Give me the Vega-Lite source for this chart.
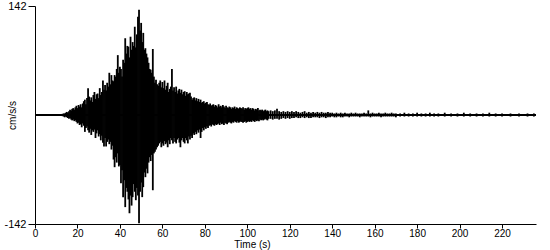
{
  "$schema": "https://vega.github.io/schema/vega-lite/v6.json",
  "width": 501,
  "height": 218,
  "autosize": {"type": "none"},
  "padding": {"left": 35, "top": 6, "right": 14, "bottom": 26},
  "background": "white",
  "config": {"view": {"stroke": null}, "font": "Liberation Sans"},
  "layer": [
    {
      "data": {"values": [{"t0": 0, "t1": 236, "v": 0}]},
      "mark": {"type": "rule", "color": "black", "strokeWidth": 2},
      "encoding": {
        "x": {"field": "t0", "type": "quantitative", "scale": {"domain": [0, 236], "nice": false}},
        "x2": {"field": "t1"},
        "y": {"field": "v", "type": "quantitative", "scale": {"domain": [-142, 142], "nice": false}}
      }
    },
    {
      "data": {"values": [
        {"t":13,"h":1.5,"l":-1.5},{"t":13.5,"h":2,"l":-2},{"t":14,"h":2,"l":-3},{"t":14.5,"h":3,"l":-2},
        {"t":15,"h":4,"l":-3},{"t":15.5,"h":3,"l":-4},{"t":16,"h":5,"l":-5},{"t":16.5,"h":7,"l":-4},
        {"t":17,"h":6,"l":-6},{"t":17.5,"h":8,"l":-7},{"t":18,"h":9,"l":-6},{"t":18.5,"h":7,"l":-8},
        {"t":19,"h":10,"l":-7},{"t":19.5,"h":12,"l":-9},{"t":20,"h":9,"l":-11},{"t":20.5,"h":13,"l":-10},
        {"t":21,"h":11,"l":-13},{"t":21.5,"h":14,"l":-12},{"t":22,"h":10,"l":-16},{"t":22.5,"h":15,"l":-11},
        {"t":23,"h":18,"l":-14},{"t":23.5,"h":20,"l":-22},{"t":24,"h":14,"l":-17},{"t":24.5,"h":22,"l":-15},
        {"t":25,"h":35,"l":-20},{"t":25.5,"h":24,"l":-23},{"t":26,"h":19,"l":-18},{"t":26.5,"h":23,"l":-26},
        {"t":27,"h":17,"l":-20},{"t":27.5,"h":26,"l":-22},{"t":28,"h":30,"l":-19},{"t":28.5,"h":21,"l":-30},
        {"t":29,"h":27,"l":-24},{"t":29.5,"h":28,"l":-20},{"t":30,"h":22,"l":-28},{"t":30.5,"h":35,"l":-25},
        {"t":31,"h":26,"l":-33},{"t":31.5,"h":30,"l":-27},{"t":32,"h":45,"l":-36},{"t":32.5,"h":33,"l":-41},
        {"t":33,"h":39,"l":-30},{"t":33.5,"h":32,"l":-41},{"t":34,"h":42,"l":-35},{"t":34.5,"h":37,"l":-32},
        {"t":35,"h":55,"l":-38},{"t":35.5,"h":40,"l":-35},{"t":36,"h":52,"l":-45},{"t":36.5,"h":45,"l":-40},
        {"t":37,"h":44,"l":-58},{"t":37.5,"h":52,"l":-68},{"t":38,"h":50,"l":-55},{"t":38.5,"h":60,"l":-62},
        {"t":39,"h":78,"l":-50},{"t":39.5,"h":55,"l":-67},{"t":40,"h":63,"l":-65},{"t":40.5,"h":60,"l":-89},
        {"t":41,"h":50,"l":-72},{"t":41.5,"h":72,"l":-107},{"t":42,"h":68,"l":-85},{"t":42.5,"h":100,"l":-120},
        {"t":43,"h":80,"l":-95},{"t":43.5,"h":90,"l":-100},{"t":44,"h":89,"l":-110},{"t":44.5,"h":75,"l":-128},
        {"t":45,"h":102,"l":-105},{"t":45.5,"h":85,"l":-118},{"t":46,"h":95,"l":-107},{"t":46.5,"h":90,"l":-90},
        {"t":47,"h":115,"l":-100},{"t":47.5,"h":88,"l":-111},{"t":48,"h":105,"l":-95},{"t":48.5,"h":128,"l":-105},
        {"t":49,"h":137,"l":-141},{"t":49.5,"h":110,"l":-100},{"t":50,"h":120,"l":-88},{"t":50.5,"h":95,"l":-107},
        {"t":51,"h":107,"l":-94},{"t":51.5,"h":85,"l":-75},{"t":52,"h":87,"l":-81},{"t":52.5,"h":80,"l":-70},
        {"t":53,"h":75,"l":-76},{"t":53.5,"h":68,"l":-62},{"t":54,"h":60,"l":-55},{"t":54.5,"h":59,"l":-60},
        {"t":55,"h":55,"l":-52},{"t":55.5,"h":86,"l":-98},{"t":56,"h":50,"l":-50},{"t":56.5,"h":42,"l":-48},
        {"t":57,"h":46,"l":-45},{"t":57.5,"h":40,"l":-42},{"t":58,"h":38,"l":-40},{"t":58.5,"h":42,"l":-37},
        {"t":59,"h":45,"l":-35},{"t":59.5,"h":36,"l":-42},{"t":60,"h":43,"l":-37},{"t":60.5,"h":35,"l":-40},
        {"t":61,"h":45,"l":-34},{"t":61.5,"h":33,"l":-38},{"t":62,"h":38,"l":-36},{"t":62.5,"h":42,"l":-42},
        {"t":63,"h":30,"l":-33},{"t":63.5,"h":34,"l":-38},{"t":64,"h":37,"l":-30},{"t":64.5,"h":60,"l":-33},
        {"t":65,"h":32,"l":-37},{"t":65.5,"h":36,"l":-30},{"t":66,"h":30,"l":-35},{"t":66.5,"h":37,"l":-37},
        {"t":67,"h":28,"l":-32},{"t":67.5,"h":32,"l":-30},{"t":68,"h":34,"l":-36},{"t":68.5,"h":29,"l":-42},
        {"t":69,"h":33,"l":-33},{"t":69.5,"h":27,"l":-30},{"t":70,"h":30,"l":-35},{"t":70.5,"h":31,"l":-37},
        {"t":71,"h":25,"l":-30},{"t":71.5,"h":30,"l":-33},{"t":72,"h":27,"l":-37},{"t":72.5,"h":28,"l":-28},
        {"t":73,"h":29,"l":-32},{"t":73.5,"h":24,"l":-27},{"t":74,"h":20,"l":-30},{"t":74.5,"h":22,"l":-24},
        {"t":75,"h":23,"l":-26},{"t":75.5,"h":19,"l":-22},{"t":76,"h":22,"l":-25},{"t":76.5,"h":18,"l":-20},
        {"t":77,"h":21,"l":-23},{"t":77.5,"h":17,"l":-19},{"t":78,"h":20,"l":-30},{"t":78.5,"h":16,"l":-22},
        {"t":79,"h":17,"l":-17},{"t":79.5,"h":18,"l":-20},{"t":80,"h":15,"l":-16},{"t":80.5,"h":16,"l":-18},
        {"t":81,"h":17,"l":-15},{"t":81.5,"h":14,"l":-17},{"t":82,"h":13,"l":-14},{"t":82.5,"h":15,"l":-13},
        {"t":83,"h":12,"l":-15},{"t":83.5,"h":13,"l":-12},{"t":84,"h":14,"l":-13},{"t":84.5,"h":11,"l":-14},
        {"t":85,"h":13,"l":-12},{"t":85.5,"h":12,"l":-13},{"t":86,"h":10,"l":-12},{"t":86.5,"h":14,"l":-11},
        {"t":87,"h":11,"l":-13},{"t":87.5,"h":12,"l":-10},{"t":88,"h":10,"l":-12},{"t":88.5,"h":13,"l":-11},
        {"t":89,"h":11,"l":-13},{"t":89.5,"h":9,"l":-10},{"t":90,"h":12,"l":-11},{"t":90.5,"h":10,"l":-12},
        {"t":91,"h":9,"l":-10},{"t":91.5,"h":11,"l":-9},{"t":92,"h":10,"l":-10},{"t":92.5,"h":8,"l":-11},
        {"t":93,"h":10,"l":-9},{"t":93.5,"h":9,"l":-10},{"t":94,"h":11,"l":-8},{"t":94.5,"h":8,"l":-9},
        {"t":95,"h":10,"l":-10},{"t":95.5,"h":9,"l":-8},{"t":96,"h":8,"l":-10},{"t":96.5,"h":10,"l":-9},
        {"t":97,"h":9,"l":-8},{"t":97.5,"h":8,"l":-9},{"t":98,"h":10,"l":-10},{"t":98.5,"h":7,"l":-9},
        {"t":99,"h":9,"l":-8},{"t":99.5,"h":8,"l":-10},{"t":100,"h":9,"l":-9},{"t":100.5,"h":10,"l":-8},
        {"t":101,"h":8,"l":-9},{"t":101.5,"h":9,"l":-8},{"t":102,"h":7,"l":-9},{"t":102.5,"h":9,"l":-7},
        {"t":103,"h":8,"l":-8},{"t":103.5,"h":6,"l":-9},{"t":104,"h":8,"l":-7},{"t":104.5,"h":7,"l":-8},
        {"t":105,"h":9,"l":-7},{"t":105.5,"h":6,"l":-8},{"t":106,"h":7,"l":-6},{"t":106.5,"h":6,"l":-7},
        {"t":107,"h":7,"l":-6},{"t":107.5,"h":5,"l":-7},{"t":108,"h":6,"l":-6},{"t":108.5,"h":7,"l":-5},
        {"t":109,"h":5,"l":-6},{"t":109.5,"h":6,"l":-7},{"t":110,"h":5,"l":-5},
        {"t":111,"h":6,"l":-5},{"t":112,"h":5,"l":-6},{"t":113,"h":6,"l":-5},{"t":114,"h":8,"l":-5},
        {"t":115,"h":5,"l":-6},{"t":116,"h":4,"l":-5},{"t":117,"h":5,"l":-4},{"t":118,"h":4,"l":-5},
        {"t":119,"h":5,"l":-4},{"t":120,"h":4,"l":-5},{"t":121,"h":5,"l":-4},{"t":122,"h":4,"l":-4},
        {"t":123,"h":5,"l":-3},{"t":124,"h":4,"l":-4},{"t":125,"h":3,"l":-4},{"t":126,"h":4,"l":-3},
        {"t":127,"h":5,"l":-4},{"t":128,"h":3,"l":-3},{"t":129,"h":4,"l":-4},{"t":130,"h":3,"l":-4},
        {"t":131,"h":4,"l":-3},{"t":132,"h":3,"l":-3},{"t":133,"h":4,"l":-3},{"t":134,"h":3,"l":-4},
        {"t":135,"h":4,"l":-3},{"t":136,"h":3,"l":-3},{"t":137,"h":3,"l":-4},{"t":138,"h":4,"l":-3},
        {"t":139,"h":3,"l":-3},{"t":140,"h":3,"l":-2},{"t":141,"h":2,"l":-3},{"t":142,"h":3,"l":-3},
        {"t":143,"h":2,"l":-2},{"t":144,"h":3,"l":-3},{"t":145,"h":2,"l":-3},{"t":146,"h":3,"l":-2},
        {"t":147,"h":2,"l":-2},{"t":148,"h":2,"l":-3},{"t":149,"h":3,"l":-2},{"t":150,"h":2,"l":-2},
        {"t":151,"h":3,"l":-2},{"t":152,"h":2,"l":-2},{"t":153,"h":2,"l":-3},{"t":154,"h":2,"l":-2},
        {"t":155,"h":3,"l":-2},{"t":156,"h":2,"l":-2},{"t":157,"h":6,"l":-2},{"t":158,"h":2,"l":-3},
        {"t":159,"h":3,"l":-2},{"t":160,"h":2,"l":-2},{"t":161,"h":2,"l":-2},{"t":162,"h":3,"l":-2},
        {"t":163,"h":2,"l":-3},{"t":164,"h":2,"l":-2},{"t":165,"h":3,"l":-2},{"t":166,"h":2,"l":-2},
        {"t":167,"h":2,"l":-2},{"t":168,"h":3,"l":-2},{"t":169,"h":2,"l":-2},{"t":170,"h":2,"l":-3},
        {"t":172,"h":2,"l":-2},{"t":174,"h":3,"l":-2},{"t":176,"h":2,"l":-2},{"t":178,"h":2,"l":-2},
        {"t":180,"h":3,"l":-2},{"t":182,"h":2,"l":-2},{"t":184,"h":2,"l":-2},{"t":186,"h":3,"l":-2},
        {"t":188,"h":2,"l":-2},{"t":190,"h":2,"l":-2},{"t":193,"h":3,"l":-2},{"t":196,"h":2,"l":-2},
        {"t":199,"h":2,"l":-2},{"t":202,"h":3,"l":-2},{"t":205,"h":2,"l":-2},{"t":208,"h":2,"l":-2},
        {"t":211,"h":2,"l":-2},{"t":214,"h":3,"l":-2},{"t":217,"h":2,"l":-2},{"t":220,"h":2,"l":-2},
        {"t":224,"h":2,"l":-2},{"t":228,"h":2,"l":-2},{"t":232,"h":2,"l":-2},{"t":235,"h":2,"l":-2}
      ]},
      "mark": {"type": "rule", "color": "black", "strokeWidth": 1.8},
      "encoding": {
        "x": {
          "field": "t", "type": "quantitative",
          "scale": {"domain": [0, 236], "nice": false},
          "axis": {
            "values": [0, 20, 40, 60, 80, 100, 120, 140, 160, 180, 200, 220],
            "title": "Time (s)", "grid": false,
            "domainColor": "black", "tickColor": "black", "labelColor": "black", "titleColor": "black",
            "tickSize": 4, "labelPadding": 0, "labelFontSize": 10, "labelFlush": false,
            "titleFontSize": 10, "titleFontWeight": "normal",
            "titleX": 217, "titleY": 20, "titleBaseline": "middle"
          }
        },
        "y": {
          "field": "l", "type": "quantitative",
          "scale": {"domain": [-142, 142], "nice": false},
          "axis": {
            "values": [-142, 142],
            "labelExpr": "datum.value < 0 ? '-142' : '142'",
            "title": "cm/s/s", "grid": false,
            "domainColor": "black", "tickColor": "black", "labelColor": "black", "titleColor": "black",
            "tickSize": 7, "labelPadding": 2, "labelFontSize": 11,
            "titleFontSize": 10, "titleFontWeight": "normal",
            "titleX": -23, "titleY": 109, "titleAngle": 270, "titleAlign": "center", "titleBaseline": "middle"
          }
        },
        "y2": {"field": "h"}
      }
    }
  ]
}
